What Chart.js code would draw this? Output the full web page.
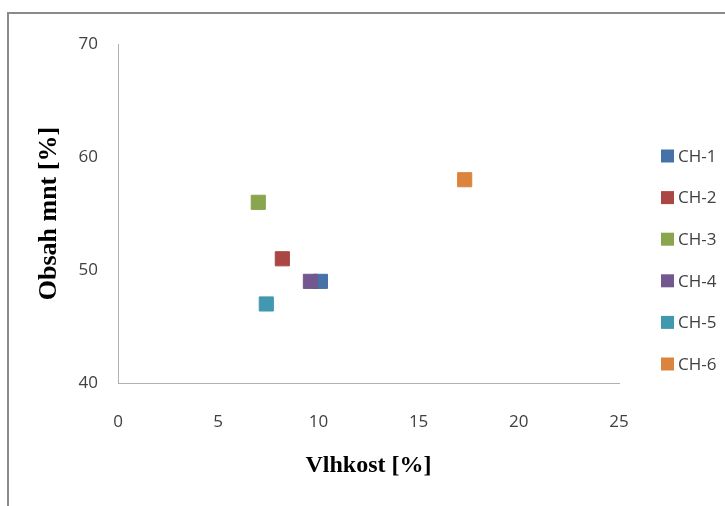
<!DOCTYPE html>
<html>
<head>
<meta charset="utf-8">
<script src="https://cdn.jsdelivr.net/npm/chart.js@4"></script>
<style>
  html, body { margin: 0; padding: 0; background: #fff; overflow: hidden; }
  body { width: 725px; height: 506px; position: relative; }
  .frame {
    position: absolute; left: 7px; top: 12px; width: 760px; height: 540px;
    border-top: 2px solid #8a8a8a; border-left: 2px solid #8a8a8a;
  }
  .wrap { position: absolute; left: 9px; top: 14px; width: 716px; height: 492px; }
</style>
</head>
<body>
<div class="frame"></div>
<div class="wrap"><canvas id="chart"></canvas></div>
<script>
/* ---- data ---- */
const seriesNames = ['CH-1', 'CH-2', 'CH-3', 'CH-4', 'CH-5', 'CH-6'];
const moisture = [10.1, 8.2, 7.0, 9.6, 7.4, 17.3];     // Vlhkost [%]
const mntContent = [49, 51, 56, 49, 47, 58];            // Obsah mnt [%]
const seriesColors = ['#4572a7', '#aa4643', '#89a54e', '#72588e', '#4198af', '#db843d'];

const xTitle = 'Vlhkost [%]';
const yTitle = 'Obsah mnt [%]';

const tickFont = { family: "'Open Sans', sans-serif", size: 17 };
const serif = "'Liberation Serif', 'Times New Roman', serif";

// legend drawn on the right, one square + label per series
const sideLegend = {
  id: 'sideLegend',
  afterDraw(chart) {
    const ctx = chart.ctx;
    const n = chart.data.datasets.length;
    const step = 41.6;
    const midY = chart.height / 2;
    ctx.save();
    ctx.font = "17px 'Open Sans', sans-serif";
    ctx.textBaseline = 'middle';
    chart.data.datasets.forEach((ds, i) => {
      const y = midY + (i - (n - 1) / 2) * step;
      ctx.fillStyle = ds.backgroundColor;
      ctx.fillRect(652, y - 6.5, 13, 13);
      ctx.fillStyle = '#404040';
      ctx.fillText(ds.label, 669, y + 1);
    });
    ctx.restore();
  }
};

const datasets = seriesNames.map((name, i) => ({
  label: name,
  data: [{ x: moisture[i], y: mntContent[i] }],
  backgroundColor: seriesColors[i],
  borderColor: seriesColors[i],
  borderWidth: 1,
  pointStyle: 'rect',
  pointRadius: 10,
  pointHoverRadius: 10,
  order: seriesNames.length - i   // later series sit on top
}));

new Chart(document.getElementById('chart').getContext('2d'), {
  type: 'scatter',
  data: { datasets },
  plugins: [sideLegend],
  options: {
    responsive: true,
    maintainAspectRatio: false,
    animation: false,
    layout: { padding: { top: 25, right: 106, left: 0, bottom: 0 } },
    scales: {
      x: {
        type: 'linear',
        min: 0, max: 25,
        ticks: { stepSize: 5, color: '#404040', font: tickFont, padding: 29 },
        grid: { display: false, drawTicks: false },
        border: { color: '#b0b0b0', width: 1 },
        title: { display: true, text: xTitle, color: '#000', font: { family: serif, size: 24, weight: 'bold' }, padding: { top: 0, bottom: 26 } },
        afterFit: scale => { scale.height = 123; }
      },
      y: {
        type: 'linear',
        min: 40, max: 70,
        ticks: { stepSize: 10, color: '#404040', font: tickFont, padding: 20 },
        grid: { display: false, drawTicks: false },
        border: { color: '#b0b0b0', width: 1 },
        title: { display: true, text: yTitle, color: '#000', font: { family: serif, size: 26, weight: 'bold' }, padding: { top: 25, bottom: 0 } },
        afterFit: scale => { scale.width = 109; }
      }
    },
    plugins: {
      legend: { display: false },
      tooltip: { enabled: false }
    }
  }
});
</script>
</body>
</html>
